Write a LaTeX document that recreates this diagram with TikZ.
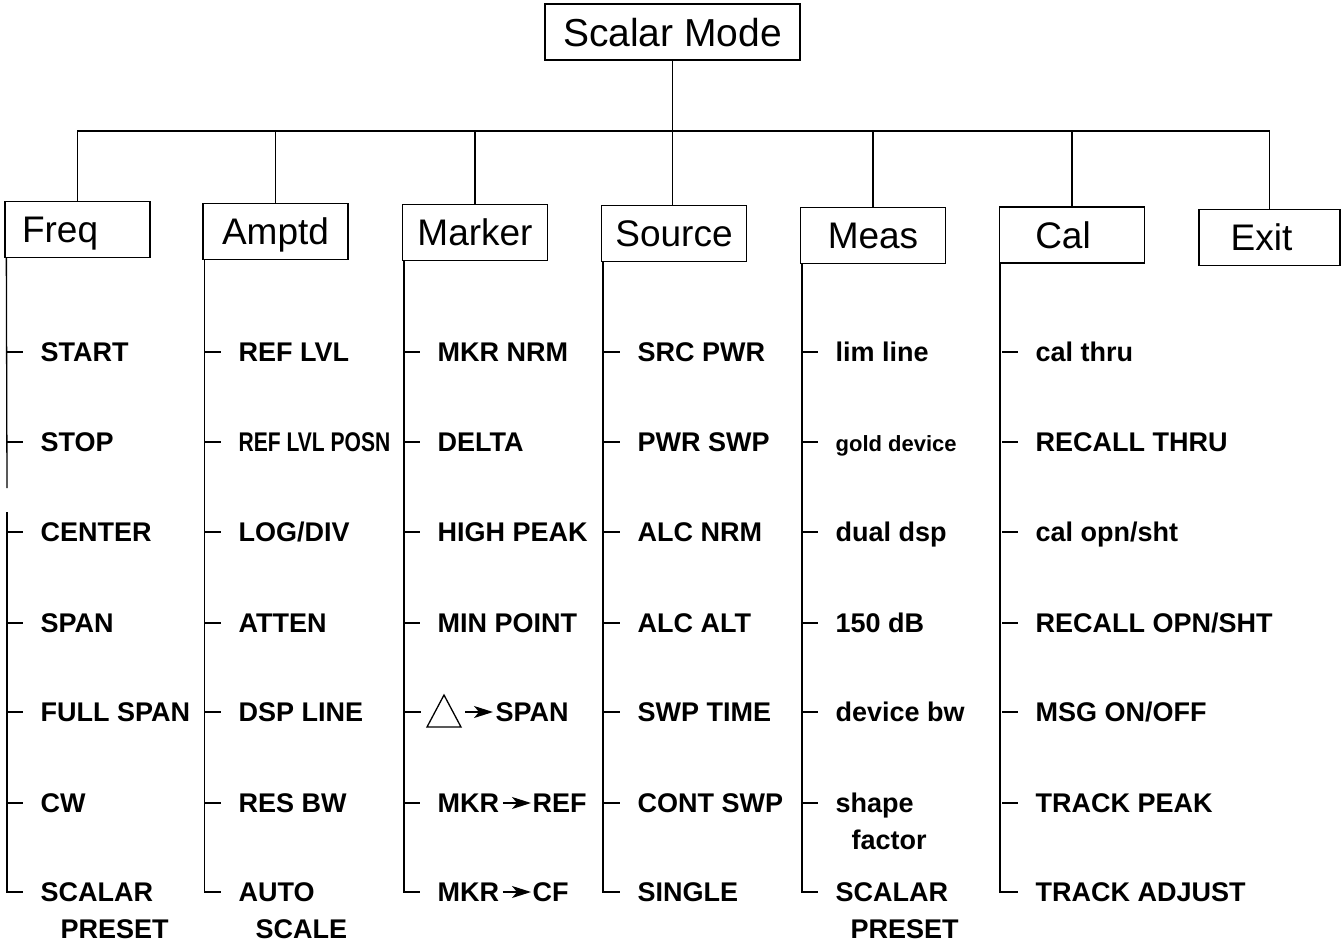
\documentclass[tikz,border=0pt]{standalone}
\usepackage{fontspec}
\setmainfont{Liberation Sans}
\usetikzlibrary{calc,arrows.meta}
\begin{document}
\begin{tikzpicture}[x=1pt,y=-1pt,line width=1.3pt,
  box/.style={draw,minimum width=145pt,minimum height=56pt,inner sep=0pt,
    text height=26.5pt,text depth=0pt,font=\fontsize{37}{40}\selectfont},
  itm/.style={anchor=base west,inner sep=0pt,text height=19.4pt,text depth=0pt,
    font=\bfseries\fontsize{27}{30}\selectfont},
  arr/.style={-{Stealth[length=19pt,width=12pt,inset=5pt]},line width=1.5pt}]
\useasboundingbox (0,0) rectangle (1343,945);
% top and boxes
\node[box,minimum width=255pt,text height=28pt,font=\fontsize{39}{42}\selectfont] (scalar) at (672.5,32) {Scalar Mode};
\node[box] (freq)   at (77.5,229.5) {\makebox[111pt][l]{Freq}};
\node[box] (amptd)  at (275.5,231.5) {Amptd};
\node[box] (marker) at (475,232.5) {Marker};
\node[box] (source) at (674,233.5) {Source};
\node[box] (meas)   at (873,235.5) {Meas};
\node[box] (cal)    at (1072,235) {\hspace*{-18pt}Cal};
\node[box,minimum width=141pt] (exit) at (1269.5,237.5) {\hspace*{-16pt}Exit};
\coordinate (bus) at (0,131);
\draw (scalar.south) -- (scalar.south |- source.north);
\draw (freq.north) -- (freq.north |- bus) -- (exit.north |- bus) -- (exit.north);
\foreach \b in {amptd,marker,meas,cal} \draw (\b.north) -- (\b.north |- bus);
% Freq column
\foreach \y/\t [count=\i] in {352/START,442/STOP,532/CENTER,623/SPAN,712/FULL SPAN,803/CW,892/SCALAR}
  {\node[itm] (fr\i) at (40,\y+9.7) {\t};}
\node[itm] (fr8) at (60,929+9.7) {PRESET};
\foreach \i in {1,...,6} \draw ([xshift=-33pt]fr\i.west) -- ++(16,0);
\draw ([xshift=2pt]freq.south west) -- (7,488);
\draw (7,512) |- ([xshift=-17pt]fr7.west);
% Amptd column
\foreach \y/\t [count=\i] in {352/REF LVL,442/{\scalebox{0.78}[1]{REF LVL POSN}},532/{LOG/DIV},623/ATTEN,712/DSP LINE,803/RES BW,892/AUTO}
  {\node[itm] (am\i) at (238,\y+9.7) {\t};}
\node[itm] (am8) at (255,929+9.7) {SCALE};
\foreach \i in {1,...,6} \draw ([xshift=-33pt]am\i.west) -- ++(16,0);
\draw ([xshift=2pt]amptd.south west) |- ([xshift=-17pt]am7.west);
% Marker column
\foreach \y/\t [count=\i] in {352/MKR NRM,442/DELTA,532/HIGH PEAK,623/MIN POINT}
  {\node[itm] (mk\i) at (437,\y+9.7) {\t};}
\draw (427,727) -- (444,695) -- (461,727) -- cycle;
\coordinate (tri) at (465,712);
\node[itm] (mk5) at (495,712+9.7) {SPAN};
\draw[arr] (tri) -- ([xshift=-2pt]mk5.west);
\node[itm] (mk6) at (437,803+9.7) {MKR};
\node[itm] (mk6b) at (532,803+9.7) {REF};
\draw[arr] ([xshift=3pt]mk6.east) -- ([xshift=-1pt]mk6b.west);
\node[itm] (mk7) at (437,892+9.7) {MKR};
\node[itm] (mk7b) at (532,892+9.7) {CF};
\draw[arr] ([xshift=3pt]mk7.east) -- ([xshift=-1pt]mk7b.west);
\foreach \i in {1,...,4} \draw ([xshift=-33pt]mk\i.west) -- ++(16,0);
\draw (405,712) -- ++(16,0);
\draw ([xshift=-33pt]mk6.west) -- ++(16,0);
\draw ([xshift=2pt]marker.south west) |- ([xshift=-17pt]mk7.west);
% Source column
\foreach \y/\t [count=\i] in {352/SRC PWR,442/PWR SWP,532/ALC NRM,623/ALC ALT,712/SWP TIME,803/CONT SWP,892/SINGLE}
  {\node[itm] (so\i) at (637,\y+9.7) {\t};}
\foreach \i in {1,...,6} \draw ([xshift=-33pt]so\i.west) -- ++(16,0);
\draw ([xshift=2pt]source.south west) |- ([xshift=-17pt]so7.west);
% Meas column
\foreach \y/\t [count=\i] in {352/lim line,442/{\fontsize{22}{24}\selectfont gold device},532/dual dsp,623/150 dB,712/device bw,803/shape,892/SCALAR}
  {\node[itm] (me\i) at (835,\y+9.7) {\t};}
\node[itm] (me8) at (851,840+9.7) {factor};
\node[itm] (me9) at (850,929+9.7) {PRESET};
\foreach \i in {1,...,6} \draw ([xshift=-33pt]me\i.west) -- ++(16,0);
\draw ([xshift=2pt]meas.south west) |- ([xshift=-17pt]me7.west);
% Cal column
\foreach \y/\t [count=\i] in {352/cal thru,442/RECALL THRU,532/{cal opn/sht},623/{RECALL OPN/SHT},712/{MSG ON/OFF},803/TRACK PEAK,892/TRACK ADJUST}
  {\node[itm] (ca\i) at (1035,\y+9.7) {\t};}
\foreach \i in {1,...,6} \draw ([xshift=-33pt]ca\i.west) -- ++(16,0);
\draw ([xshift=1pt]cal.south west) |- ([xshift=-17pt]ca7.west);
\end{tikzpicture}
\end{document}
